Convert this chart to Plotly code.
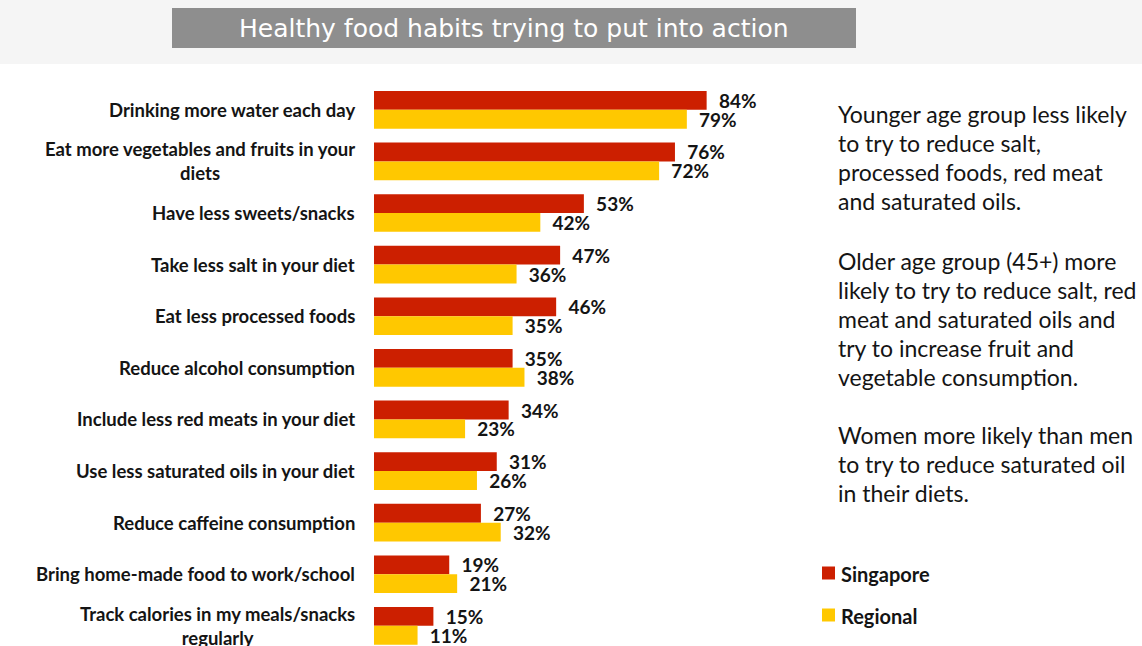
import plotly.graph_objects as go

# ---- data ----
categories = [
    "Drinking more water each day",
    "Eat more vegetables and fruits in your<br>diets",
    "Have less sweets/snacks",
    "Take less salt in your diet",
    "Eat less processed foods",
    "Reduce alcohol consumption",
    "Include less red meats in your diet",
    "Use less saturated oils in your diet",
    "Reduce caffeine consumption",
    "Bring home-made food to work/school",
    "Track calories in my meals/snacks<br>regularly",
]
singapore = [84, 76, 53, 47, 46, 35, 34, 31, 27, 19, 15]
regional = [79, 72, 42, 36, 35, 38, 23, 26, 32, 21, 11]
series_names = ["Singapore", "Regional"]
title_text = "Healthy food habits trying to put into action"
paragraphs = [
    ["Younger age group less likely", "to try to reduce salt,",
     "processed foods, red meat", "and saturated oils."],
    ["Older age group (45+) more", "likely to try to reduce salt, red",
     "meat and saturated oils and", "try to increase fruit and",
     "vegetable consumption."],
    ["Women more likely than men", "to try to reduce saturated oil",
     "in their diets."],
]

RED = "#CC1F00"
YEL = "#FFC800"
TXT = "#141414"
W, H = 1142, 646
L, R, T, B = 374, 372, 84, 0
PW, PH = W - L - R, H - T - B


def px(x):
    return (x - L) / PW


def py(y):
    return 1 - (y - T) / PH


fig = go.Figure()
for name, vals, col in [(series_names[0], singapore, RED), (series_names[1], regional, YEL)]:
    fig.add_trace(go.Bar(
        y=categories, x=vals, orientation="h", name=name,
        marker=dict(color=col, line=dict(width=0)),
        text=[f"\u00a0\u00a0{v}%" for v in vals],
        textposition="outside", constraintext="none", cliponaxis=False,
        outsidetextfont=dict(family="Lato", size=19, color=TXT, weight=700),
        showlegend=False,
    ))

ann = []
for c in categories:
    ann.append(dict(x=0, y=c, xref="x", yref="y", xshift=-17, xanchor="right",
                    yanchor="middle", align="center", showarrow=False,
                    text=c, font=dict(family="Lato", size=18.5, color=TXT, weight=700)))

# right-hand commentary
starts = [114, 261, 435]
for p, y0 in zip(paragraphs, starts):
    for i, line in enumerate(p):
        ann.append(dict(x=px(836), y=py(y0 + 29 * i), xref="paper", yref="paper",
                        xanchor="left", yanchor="middle", showarrow=False,
                        text=line, font=dict(family="Lato", size=23, color=TXT)))

# title
ann.append(dict(x=px(514), y=py(28), xref="paper", yref="paper", xanchor="center",
                yanchor="middle", showarrow=False, text=title_text,
                font=dict(family="DejaVu Sans", size=25, color="white")))

shapes = [
    dict(type="rect", xref="paper", yref="paper", x0=px(0), x1=px(W), y0=py(0), y1=py(64),
         fillcolor="#f5f5f5", line=dict(width=0), layer="below"),
    dict(type="rect", xref="paper", yref="paper", x0=px(172), x1=px(856), y0=py(8), y1=py(48),
         fillcolor="#8e8e8e", line=dict(width=0)),
]
# legend
for name, col, yc in [(series_names[0], RED, 573), (series_names[1], YEL, 615)]:
    shapes.append(dict(type="rect", xref="paper", yref="paper", x0=px(822), x1=px(835),
                       y0=py(yc - 6.5), y1=py(yc + 6.5), fillcolor=col, line=dict(width=0)))
    ann.append(dict(x=px(839), y=py(yc + 1), xref="paper", yref="paper", xanchor="left",
                    yanchor="middle", showarrow=False, text=name,
                    font=dict(family="Lato", size=20, color=TXT, weight=700)))

fig.update_layout(
    width=W, height=H, margin=dict(l=L, r=R, t=T, b=B),
    paper_bgcolor="white", plot_bgcolor="white",
    barmode="group", bargap=0.27, bargroupgap=0,
    xaxis=dict(range=[0, 100], visible=False, fixedrange=True),
    yaxis=dict(categoryorder="array", categoryarray=categories,
               range=[10.39, -0.5], showticklabels=False, showgrid=False,
               zeroline=False, showline=False, ticks="", fixedrange=True),
    annotations=ann, shapes=shapes,
)
fig.write_html("out.html", config={"displayModeBar": False},
               post_script="document.body.style.margin='0';document.body.style.overflow='hidden';")
